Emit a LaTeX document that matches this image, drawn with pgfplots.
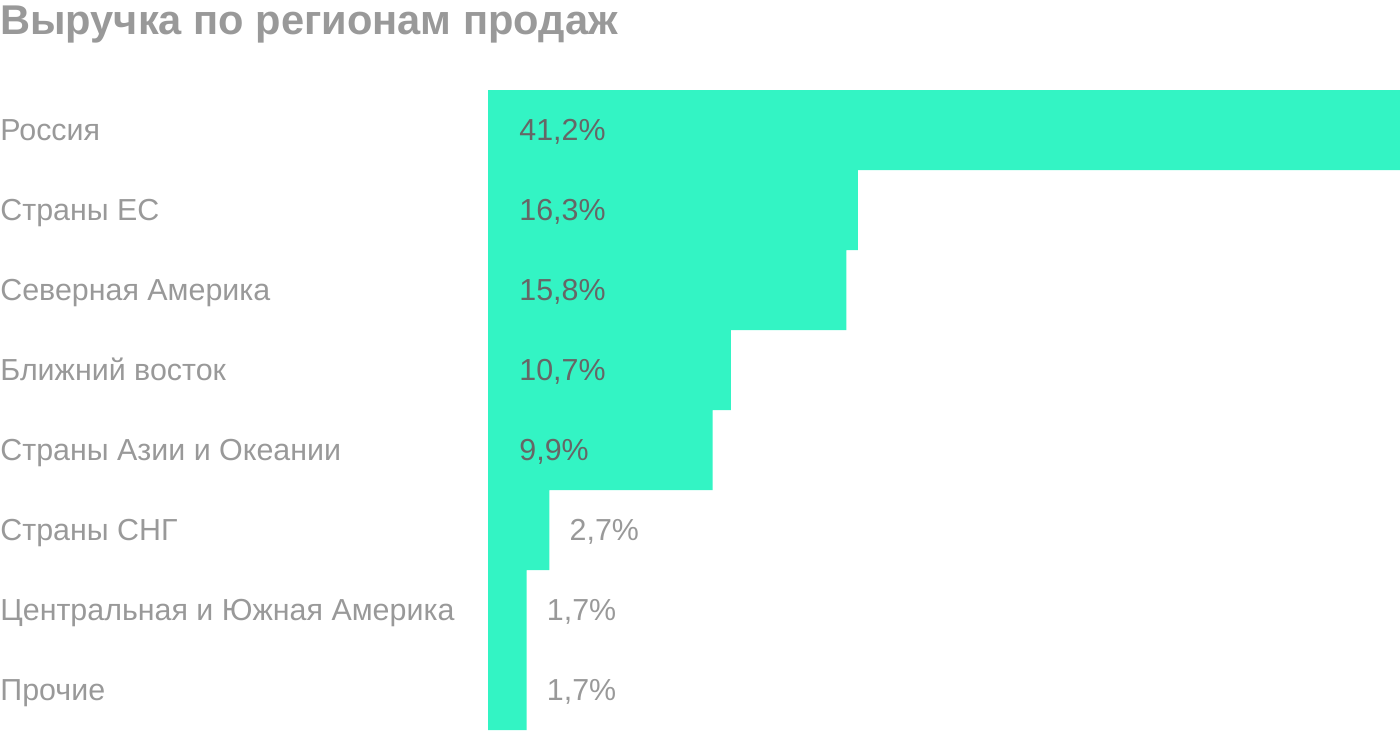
\documentclass[border=0pt]{standalone}
\usepackage{pgfplots}
\pgfplotsset{compat=1.18}
\usepackage{pgfplotstable}
\usepackage{fontspec}
\setmainfont{Liberation Sans}
\definecolor{barc}{HTML}{33F4C4}
\definecolor{lblgray}{HTML}{999999}
\definecolor{valdark}{HTML}{666666}
\pgfplotstableread{
y v
0 41.2
1 16.3
2 15.8
3 10.7
4 9.9
5 2.7
6 1.7
7 1.7
}\data
\begin{document}
\begin{tikzpicture}
\useasboundingbox (0pt,0pt) rectangle (700pt,365pt);
\node[anchor=base west, inner sep=0pt, text=lblgray, font=\fontsize{20.8}{22}\selectfont\bfseries] at (0pt,347.5pt) {Выручка по регионам продаж};
\begin{axis}[
  at={(244pt,0pt)}, anchor=south west,
  width=456pt, height=320pt, scale only axis,
  xmin=0, xmax=40.2, ymin=-0.5, ymax=7.5, y dir=reverse,
  axis line style={draw=none}, xtick=\empty, ytick={0,...,7},
  major tick length=0pt,
  yticklabels={Россия, Страны ЕС, Северная Америка, Ближний восток, Страны Азии и Океании, Страны СНГ, Центральная и Южная Америка, Прочие},
  yticklabel style={anchor=base west, xshift=-244pt, yshift=-5pt, inner sep=0pt, text=lblgray, font=\fontsize{15.2}{17}\selectfont},
  clip=true,
]
\addplot[xbar, fill=barc, draw=none, bar width=40pt, bar shift=0pt] table[x=v, y=y]{\data};
\addplot[draw=none, point meta=\thisrow{v}, skip coords between index={5}{8},
  nodes near coords={\pgfmathprintnumber[fixed, precision=1, zerofill, use comma, assume math mode=true]{\pgfplotspointmeta}\%},
  nodes near coords style={anchor=base west, xshift=15.5pt, yshift=-5pt, inner sep=0pt, text=valdark, font=\fontsize{15.2}{17}\selectfont}]
  table[x expr=0, y=y]{\data};
\addplot[draw=none, point meta=\thisrow{v}, skip coords between index={0}{5},
  nodes near coords={\pgfmathprintnumber[fixed, precision=1, zerofill, use comma, assume math mode=true]{\pgfplotspointmeta}\%},
  nodes near coords style={anchor=base west, xshift=10pt, yshift=-5pt, inner sep=0pt, text=lblgray, font=\fontsize{15.2}{17}\selectfont}]
  table[x=v, y=y]{\data};
\end{axis}
\end{tikzpicture}
\end{document}
